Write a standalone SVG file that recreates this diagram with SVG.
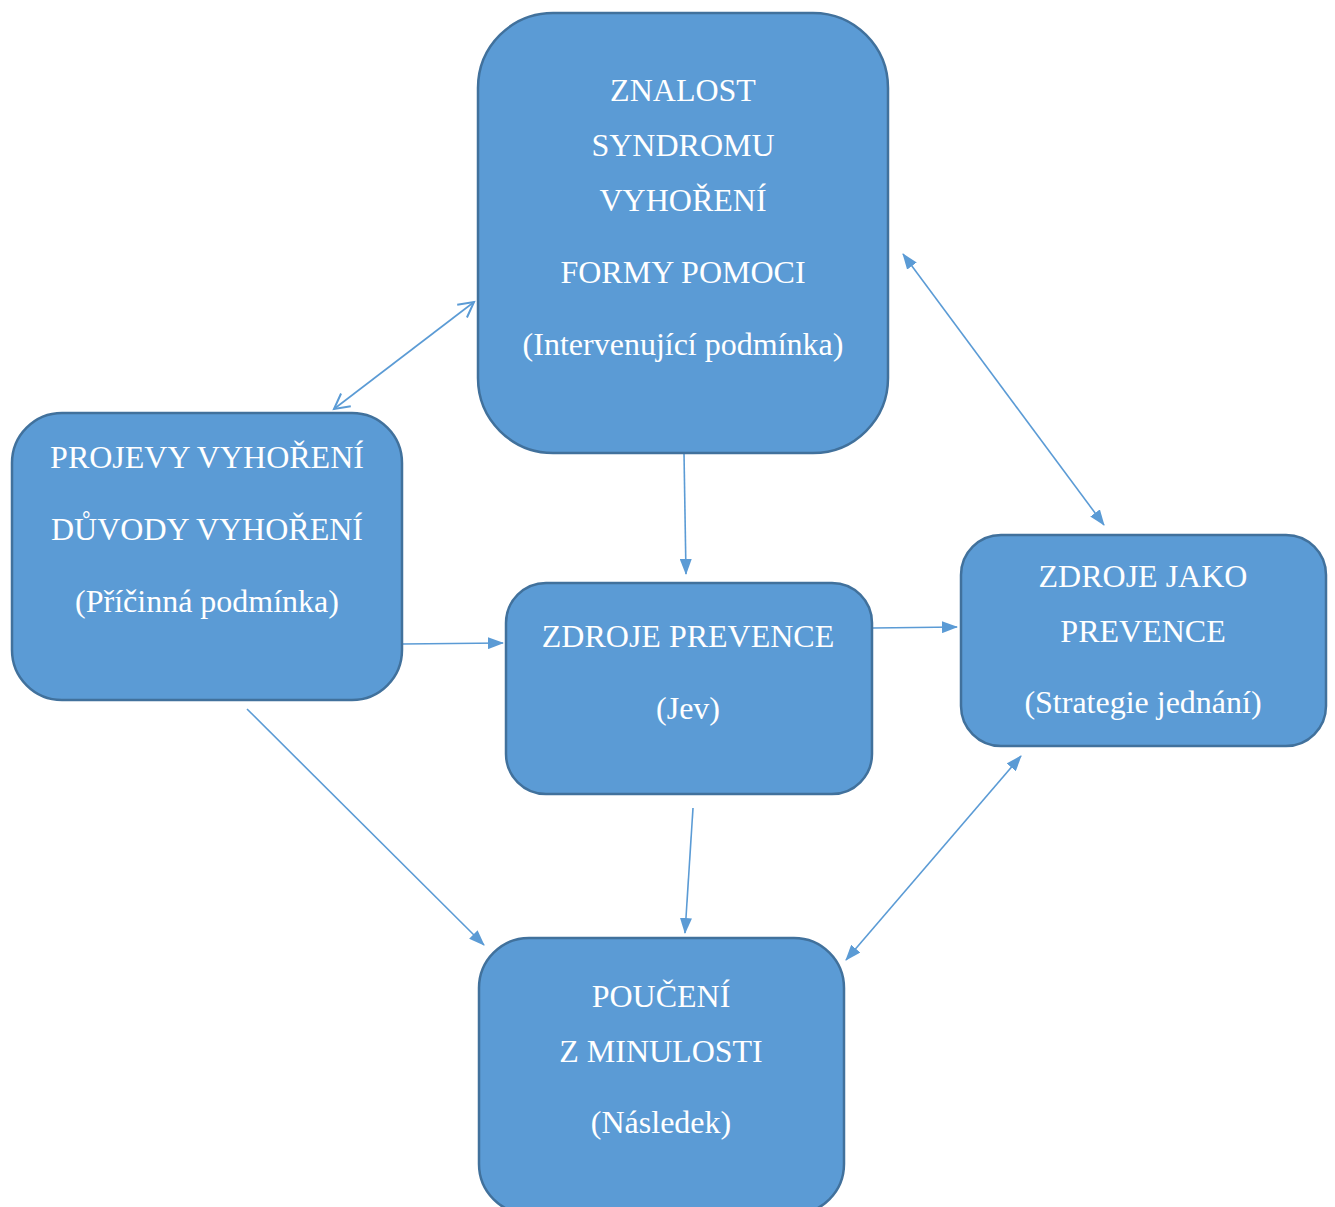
<svg xmlns="http://www.w3.org/2000/svg" width="1335" height="1207" viewBox="0 0 1335 1207">
<style>
.box{fill:#5B9BD5;stroke:#41719C;stroke-width:2.5}
.t{font-family:"Liberation Serif","Times New Roman",serif;font-size:32px;fill:#ffffff;text-anchor:middle}
.c{stroke:#5B9BD5;stroke-width:1.6;fill:none}
</style>
<defs>
<marker id="tri" markerUnits="userSpaceOnUse" markerWidth="16" markerHeight="12" refX="15" refY="6" orient="auto-start-reverse" viewBox="0 0 16 12">
<path d="M0,0 L16,6 L0,12 Z" fill="#5B9BD5"/>
</marker>
<marker id="open" markerUnits="userSpaceOnUse" markerWidth="20" markerHeight="20" refX="17" refY="10" orient="auto-start-reverse" viewBox="0 0 20 20">
<path d="M2,2 L17,10 L2,18" fill="none" stroke="#5B9BD5" stroke-width="2"/>
</marker>
</defs>
<rect width="1335" height="1207" fill="#ffffff"/>
<g id="connectors">
<line class="c" x1="334" y1="409" x2="474" y2="302" marker-start="url(#open)" marker-end="url(#open)"/>
<line class="c" x1="903" y1="254" x2="1104" y2="525" marker-start="url(#tri)" marker-end="url(#tri)"/>
<line class="c" x1="684" y1="453" x2="686" y2="574" marker-end="url(#tri)"/>
<line class="c" x1="402" y1="644" x2="503" y2="643" marker-end="url(#tri)"/>
<line class="c" x1="873" y1="628" x2="957" y2="627" marker-end="url(#tri)"/>
<line class="c" x1="247" y1="709" x2="484" y2="945" marker-end="url(#tri)"/>
<line class="c" x1="693" y1="808" x2="685" y2="933" marker-end="url(#tri)"/>
<line class="c" x1="1021" y1="756" x2="846" y2="960" marker-start="url(#tri)" marker-end="url(#tri)"/>
</g>
<g id="node-znalost">
<rect class="box" x="478" y="13" width="410" height="440" rx="75" ry="75"/>
<text class="t" x="683" y="101">ZNALOST</text>
<text class="t" x="683" y="156">SYNDROMU</text>
<text class="t" x="683" y="211">VYHOŘENÍ</text>
<text class="t" x="683" y="283">FORMY POMOCI</text>
<text class="t" x="683" y="355">(Intervenující podmínka)</text>
</g>
<g id="node-projevy">
<rect class="box" x="12" y="413" width="390" height="287" rx="50" ry="50"/>
<text class="t" x="207" y="468">PROJEVY VYHOŘENÍ</text>
<text class="t" x="207" y="540">DŮVODY VYHOŘENÍ</text>
<text class="t" x="207" y="612">(Příčinná podmínka)</text>
</g>
<g id="node-zdroje-prevence">
<rect class="box" x="506" y="583" width="366" height="211" rx="40" ry="40"/>
<text class="t" x="688" y="647">ZDROJE PREVENCE</text>
<text class="t" x="688" y="719">(Jev)</text>
</g>
<g id="node-zdroje-jako">
<rect class="box" x="961" y="535" width="365" height="211" rx="40" ry="40"/>
<text class="t" x="1143" y="587">ZDROJE JAKO</text>
<text class="t" x="1143" y="642">PREVENCE</text>
<text class="t" x="1143" y="713">(Strategie jednání)</text>
</g>
<g id="node-pouceni">
<rect class="box" x="479" y="938" width="365" height="276" rx="50" ry="50"/>
<text class="t" x="661" y="1007">POUČENÍ</text>
<text class="t" x="661" y="1062">Z MINULOSTI</text>
<text class="t" x="661" y="1133">(Následek)</text>
</g>
</svg>
